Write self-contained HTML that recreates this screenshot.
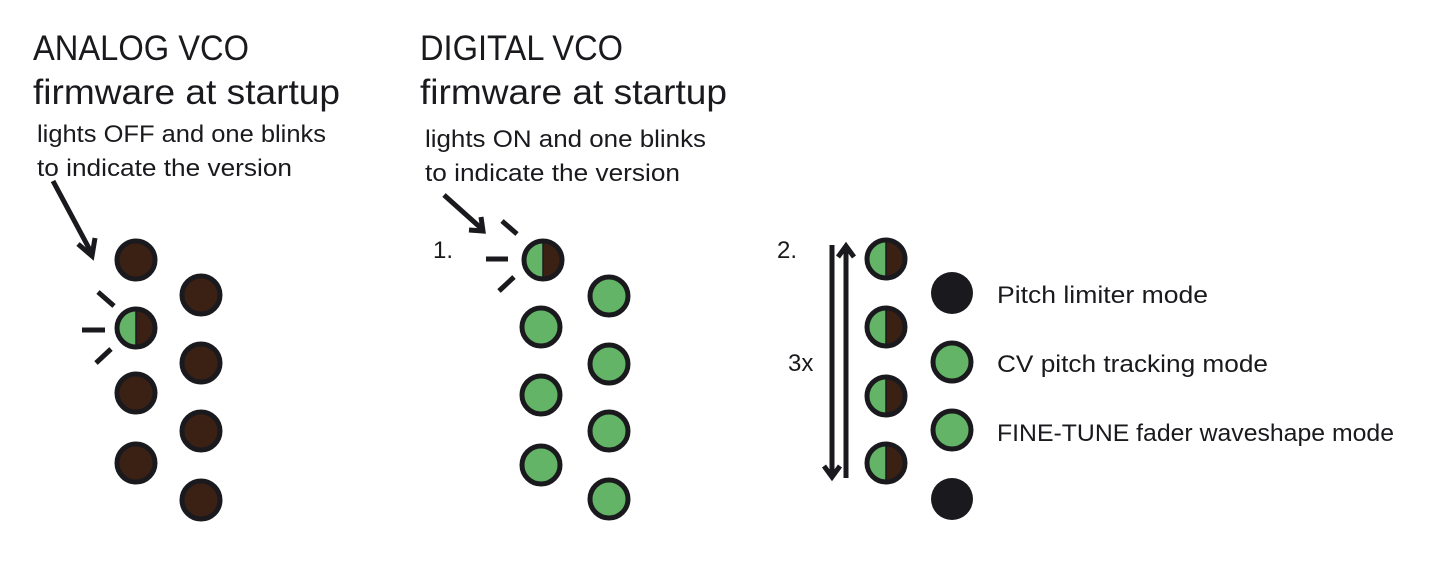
<!DOCTYPE html>
<html><head><meta charset="utf-8"><style>
html,body{margin:0;padding:0;background:#fff;width:1430px;height:574px;overflow:hidden}
svg text{font-family:"Liberation Sans",sans-serif;fill:#1a1a1e}
</style></head><body>
<svg width="1430" height="574" viewBox="0 0 1430 574" xmlns="http://www.w3.org/2000/svg">
<defs>
<g id="B"><circle r="19" fill="#3a2114" stroke="#1a1a1e" stroke-width="5"/></g>
<g id="G"><circle r="19" fill="#63b466" stroke="#1a1a1e" stroke-width="5"/></g>
<g id="K"><circle r="21" fill="#1a1a1e"/></g>
<g id="H"><circle r="19" fill="#3a2114"/><path d="M0,-19 A19,19 0 0,0 0,19 Z" fill="#63b466"/><line x1="0" y1="-19" x2="0" y2="19" stroke="#1a1a1e" stroke-width="1.5"/><circle r="19" fill="none" stroke="#1a1a1e" stroke-width="5"/></g>
</defs>
<g font-size="35">
<text x="33" y="60" textLength="216" lengthAdjust="spacingAndGlyphs">ANALOG VCO</text>
<text x="33" y="104" textLength="307" lengthAdjust="spacingAndGlyphs">firmware at startup</text>
<text x="420" y="60" textLength="203" lengthAdjust="spacingAndGlyphs">DIGITAL VCO</text>
<text x="420" y="104" textLength="307" lengthAdjust="spacingAndGlyphs">firmware at startup</text>
</g>
<g font-size="24">
<text x="37" y="142" textLength="289" lengthAdjust="spacingAndGlyphs">lights OFF and one blinks</text>
<text x="37" y="176" textLength="255" lengthAdjust="spacingAndGlyphs">to indicate the version</text>
<text x="425" y="147" textLength="281" lengthAdjust="spacingAndGlyphs">lights ON and one blinks</text>
<text x="425" y="181" textLength="255" lengthAdjust="spacingAndGlyphs">to indicate the version</text>
<text x="433" y="258">1.</text>
<text x="777" y="258">2.</text>
<text x="788" y="371">3x</text>
<text x="997" y="303" textLength="211" lengthAdjust="spacingAndGlyphs">Pitch limiter mode</text>
<text x="997" y="372" textLength="271" lengthAdjust="spacingAndGlyphs">CV pitch tracking mode</text>
<text x="997" y="441" textLength="397" lengthAdjust="spacingAndGlyphs">FINE-TUNE fader waveshape mode</text>
</g>
<g stroke="#1a1a1e" stroke-width="5" fill="none">
<line x1="53" y1="181" x2="91" y2="252"/>
<polyline points="78,244 92,256 95,238"/>
<line x1="98" y1="292" x2="114" y2="306"/>
<line x1="82" y1="330" x2="105" y2="330"/>
<line x1="96" y1="363" x2="111" y2="349"/>
<line x1="444" y1="195" x2="482" y2="229"/>
<polyline points="469,230 483,231 481,217"/>
<line x1="502" y1="221" x2="517" y2="234"/>
<line x1="486" y1="259" x2="508" y2="259"/>
<line x1="499" y1="291" x2="514" y2="277"/>
<line x1="832" y1="245" x2="832" y2="476"/>
<polyline points="824,466 832,477 840,466"/>
<line x1="846" y1="478" x2="846" y2="247"/>
<polyline points="838,257 846,246 854,257"/>
</g>
<use href="#B" x="136" y="260"/>
<use href="#H" x="136" y="328"/>
<use href="#B" x="136" y="393"/>
<use href="#B" x="136" y="463"/>
<use href="#B" x="201" y="295"/>
<use href="#B" x="201" y="363"/>
<use href="#B" x="201" y="431"/>
<use href="#B" x="201" y="500"/>
<use href="#H" x="543" y="260"/>
<use href="#G" x="541" y="327"/>
<use href="#G" x="541" y="395"/>
<use href="#G" x="541" y="465"/>
<use href="#G" x="609" y="296"/>
<use href="#G" x="609" y="364"/>
<use href="#G" x="609" y="431"/>
<use href="#G" x="609" y="499"/>
<use href="#H" x="886" y="259"/>
<use href="#H" x="886" y="327"/>
<use href="#H" x="886" y="396"/>
<use href="#H" x="886" y="463"/>
<use href="#K" x="952" y="293"/>
<use href="#G" x="952" y="362"/>
<use href="#G" x="952" y="430"/>
<use href="#K" x="952" y="499"/>
</svg>
</body></html>
